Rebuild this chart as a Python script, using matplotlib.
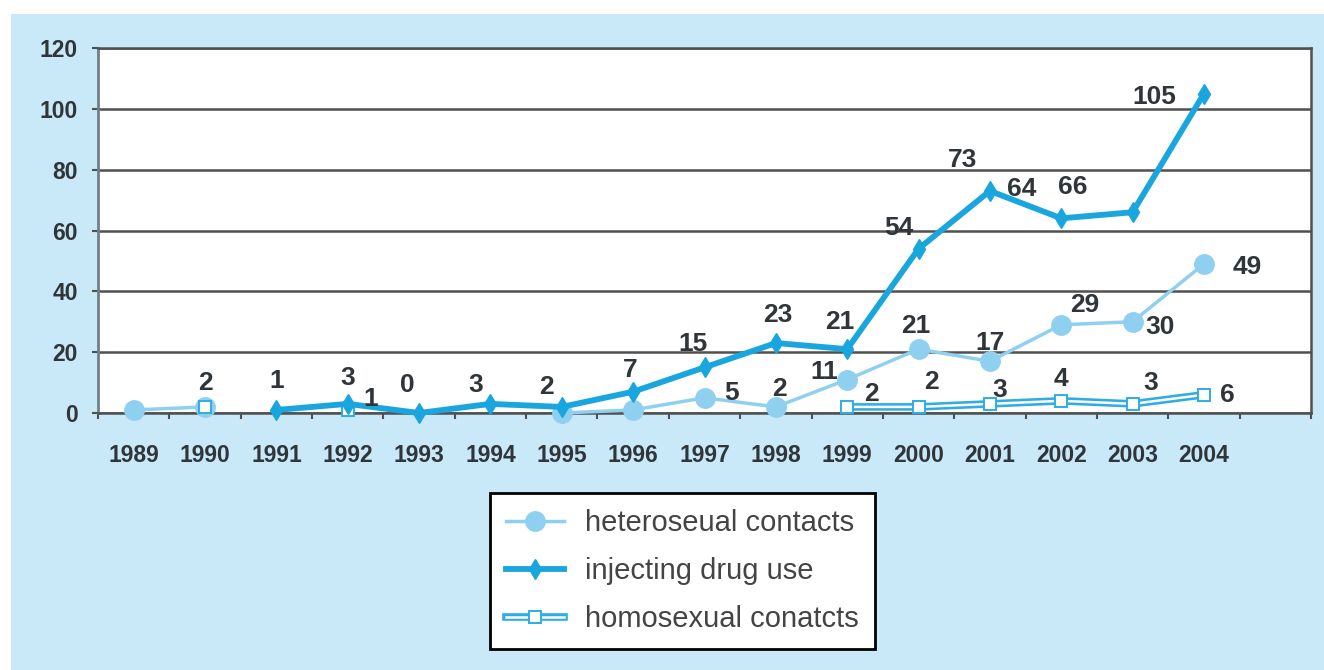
import numpy as np
import matplotlib
matplotlib.use("Agg")
import matplotlib.pyplot as plt
from matplotlib.lines import Line2D
from matplotlib.patches import Rectangle

plt.rcParams['font.family'] = ['Liberation Sans', 'DejaVu Sans']

nan = np.nan

# -----------------------------
# data
# -----------------------------
years = [1989, 1990, 1991, 1992, 1993, 1994, 1995, 1996,
         1997, 1998, 1999, 2000, 2001, 2002, 2003, 2004]
hetero = [1, 2, nan, nan, nan, nan, 0, 1, 5, 2, 11, 21, 17, 29, 30, 49]
drug = [nan, nan, 1, 3, 0, 3, 2, 7, 15, 23, 21, 54, 73, 64, 66, 105]
homo = [nan, 2, nan, 1, nan, nan, nan, nan, nan, nan, 2, 2, 3, 4, 3, 6]
y_ticks = [0, 20, 40, 60, 80, 100, 120]
legend_labels = ["heteroseual contacts", "injecting drug use", "homosexual conatcts"]

# label placement (pixel offsets from the point), same as the original layout
drug_offsets = {1991: (0, 29), 1992: (0, 26), 1993: (-12, 28), 1994: (-15, 19),
                1995: (-15, 20), 1996: (-3, 22), 1997: (-11, 23), 1998: (2, 28),
                1999: (-7, 27), 2000: (-20, 21), 2001: (-27, 31), 2002: (-40, 29),
                2003: (-60, 25), 2004: (-50, -3)}
hetero_offsets = {1997: (27, 5), 1998: (4, 18), 1999: (-23, 8), 2000: (-3, 23),
                  2001: (0, 18), 2002: (23, 20), 2003: (27, -5), 2004: (43, -3)}
homo_offsets = {1990: (0, 24), 1992: (23, 11), 1999: (24, 13), 2000: (13, 25),
                2001: (10, 14), 2002: (0, 22), 2003: (18, 21), 2004: (23, 0)}

C_DRUG = "#19a6de"
C_HETERO = "#8fd0f1"
C_HOMO = "#2fade3"
C_PANEL = "#c9e9f9"
C_TEXT = "#2f3538"
C_GRID = "#505050"

W, H = 1324, 670
fig = plt.figure(figsize=(W / 100, H / 100), dpi=100, facecolor="white")
fig.patches.append(Rectangle((11 / W, 0), 1, 1 - 14 / H, transform=fig.transFigure,
                             facecolor=C_PANEL, edgecolor="none", zorder=-10))

ax = fig.add_axes([98 / W, 1 - 413 / H, (1311 - 98) / W, (413 - 48) / H])
ax.set_facecolor("white")

x = np.arange(len(years))

# heterosexual
ax.plot(x, hetero, color=C_HETERO, lw=2.5, marker="o", ms=14,
        mfc=C_HETERO, mec=C_HETERO, zorder=3, clip_on=False)
# homosexual: blue double line with white centre
ax.plot(x, homo, color=C_HOMO, lw=5.5, zorder=4, clip_on=False)
ax.plot(x, homo, color="white", lw=1.8, marker="s", ms=8.5, mfc="white",
        mec=C_HOMO, mew=1.4, zorder=4, clip_on=False)
# drug use
ax.plot(x, drug, color=C_DRUG, lw=4.2, marker="d", ms=10.5,
        mfc=C_DRUG, mec=C_DRUG, mew=1, zorder=5, clip_on=False)


def put_labels(values, offsets):
    for yr, (dx, dy) in offsets.items():
        i = years.index(yr)
        ax.annotate(f"{values[i]:g}", xy=(x[i], values[i]), xytext=(dx, dy),
                    textcoords="offset pixels", ha="center", va="center",
                    fontsize=19, fontweight="bold", color=C_TEXT, zorder=6,
                    annotation_clip=False)


put_labels(drug, drug_offsets)
put_labels(hetero, hetero_offsets)
put_labels(homo, homo_offsets)

# axes
ax.set_xlim(-0.5, len(years) + 0.5)
ax.set_ylim(0, 120)
ax.set_yticks(y_ticks)
ax.set_yticklabels([str(v) for v in y_ticks], fontweight="bold", color=C_TEXT, fontsize=16.5)
ax.set_xticks(x)
ax.set_xticklabels([str(y) for y in years], fontweight="bold", color=C_TEXT, fontsize=16.5)
ax.set_xticks(np.arange(-0.5, len(years) + 1, 1), minor=True)
ax.tick_params(axis="x", which="major", length=0, pad=22)
ax.tick_params(axis="x", which="minor", length=4.5, width=1.5, color=C_GRID, direction="out")
ax.tick_params(axis="y", length=4.5, width=1.5, color=C_GRID, pad=10)

ax.yaxis.grid(True, color=C_GRID, lw=1.8)
ax.set_axisbelow(True)
for side in ["top", "right", "bottom"]:
    ax.spines[side].set_color(C_GRID)
    ax.spines[side].set_linewidth(1.8)
ax.spines["left"].set_color("#6f7f86")
ax.spines["left"].set_linewidth(2)

# legend
h_het = Line2D([], [], color=C_HETERO, lw=2.5, marker="o", ms=14, mfc=C_HETERO, mec=C_HETERO)
h_drug = Line2D([], [], color=C_DRUG, lw=4.2, marker="d", ms=10.5, mfc=C_DRUG, mec=C_DRUG, mew=1)
h_homo = (Line2D([], [], color=C_HOMO, lw=5.5),
          Line2D([], [], color="white", lw=1.8, marker="s", ms=8.5, mfc="white",
                 mec=C_HOMO, mew=1.4))
leg = fig.legend([h_het, h_drug, h_homo], legend_labels,
                 loc="upper left", bbox_to_anchor=(490 / W, 1 - 493 / H),
                 fontsize=21, labelcolor="#444444", frameon=True, fancybox=False,
                 edgecolor="black", facecolor="white", framealpha=1,
                 handlelength=2.0, handletextpad=0.7, borderpad=0.55,
                 labelspacing=0.68, numpoints=1, borderaxespad=0)
leg.get_frame().set_linewidth(2)

fig.savefig("out.png", dpi=100, facecolor=fig.get_facecolor())
